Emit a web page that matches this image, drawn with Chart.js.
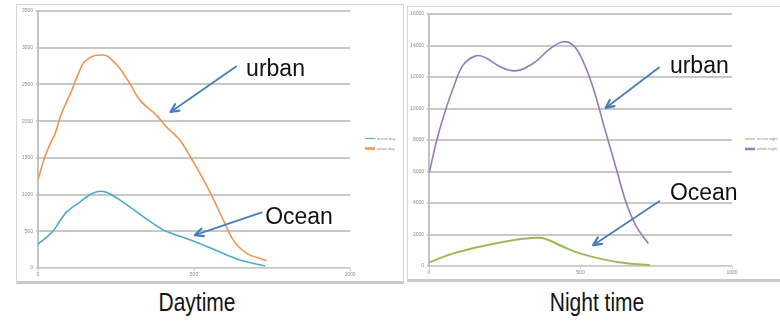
<!DOCTYPE html>
<html><head><meta charset="utf-8">
<script src="https://cdn.jsdelivr.net/npm/chart.js@4"></script>
<style>
html,body{margin:0;padding:0;background:#fff;}
body{width:780px;height:321px;position:relative;overflow:hidden;font-family:"Liberation Sans",Arial,sans-serif;}
.frame{position:absolute;box-sizing:border-box;border:1px solid #d6d6d6;border-bottom:3px solid #c9c9c9;background:#fff;}
canvas{position:absolute;}
.title{position:absolute;top:288px;font-family:"Liberation Sans",Arial,sans-serif;font-size:25px;color:#151515;transform:translateX(-50%) scaleX(0.84);white-space:nowrap;}
</style></head>
<body>
<div class="frame" style="left:16px;top:4px;width:388px;height:280px"></div>
<div class="frame" style="left:407px;top:6px;width:380px;height:276px"></div>
<canvas id="day" width="386" height="277" style="left:17px;top:5px"></canvas>
<canvas id="night" width="372" height="272" style="left:408px;top:8px"></canvas>
<div class="title" style="left:197px">Daytime</div>
<div class="title" style="left:597px">Night time</div>
<script>
// Daytime series
const dayUrbanX = [0, 22, 40, 55, 68, 80, 108, 125, 145, 165, 183, 218, 240, 263, 295, 327, 380, 412, 455, 498, 551, 594, 626, 669, 733];
const dayUrbanY = [1205, 1512, 1700, 1830, 2011, 2150, 2418, 2600, 2790, 2860, 2894, 2894, 2820, 2713, 2509, 2283, 2079, 1920, 1739, 1444, 1037, 652, 380, 200, 100];
const dayOceanX = [0, 25, 49, 70, 92, 135, 177, 215, 263, 338, 402, 450, 498, 573, 647, 728];
const dayOceanY = [326, 410, 507, 640, 765, 901, 1023, 1037, 924, 697, 516, 440, 367, 235, 109, 27];

// Night-time series
const nightUrbanX = [1, 25, 50, 80, 113, 157, 190, 234, 284, 344, 399, 443, 477, 509, 542, 576, 620, 652, 685, 724];
const nightUrbanY = [5940, 7938, 9620, 11300, 12770, 13356, 13190, 12660, 12390, 12870, 13780, 14240, 13990, 12980, 11300, 8990, 6050, 3950, 2480, 1430];
const nightOceanX = [1, 80, 190, 278, 355, 388, 443, 498, 575, 652, 729];
const nightOceanY = [230, 800, 1323, 1640, 1790, 1700, 1220, 800, 420, 170, 60];

const xTickLabels = ['0', '500', '1000'];
const seriesLabels = {day: ['ocean day', 'urban day'], night: ['ocean night', 'urban night']};

const pts = (xs, ys) => xs.map((x, i) => ({x, y: ys[i]}));

// Callouts: text and arrow positions in data units
const dayCallouts = [
  {text: 'urban', at: [667, 2616], tail: [635, 2745], tip: [425, 2124]},
  {text: 'Ocean', at: [728, 598], tail: [717, 757], tip: [503, 448]}
];
const nightCallouts = [
  {text: 'urban', at: [795, 12285], tail: [759, 12600], tip: [583, 10036]},
  {text: 'Ocean', at: [795, 4221], tail: [760, 4114], tip: [542, 1323]}
];

const sideLegend = {
  id: 'sideLegend',
  afterDraw(chart, args, o) {
    const ctx = chart.ctx, a = chart.chartArea;
    const x0 = a.right + o.offsetX;
    const yc = (a.top + a.bottom) / 2;
    ctx.save();
    chart.data.datasets.forEach((ds, i) => {
      const y = yc + o.offsetY + i * o.rowGap;
      ctx.strokeStyle = ds.borderColor;
      ctx.lineWidth = o.sampleWidths[i];
      ctx.beginPath(); ctx.moveTo(x0, y); ctx.lineTo(x0 + o.sampleLen, y); ctx.stroke();
      ctx.fillStyle = '#8c8c8c';
      ctx.font = '4px "Liberation Sans"';
      ctx.textBaseline = 'middle';
      ctx.fillText(ds.label, x0 + o.sampleLen + 2, y);
    });
    ctx.restore();
  }
};

const callouts = {
  id: 'callouts',
  afterDatasetsDraw(chart, args, o) {
    const xs = chart.scales.x, ys = chart.scales.y, ctx = chart.ctx;
    ctx.save();
    o.items.forEach(it => {
      const tx = xs.getPixelForValue(it.tail[0]), ty = ys.getPixelForValue(it.tail[1]);
      const hx = xs.getPixelForValue(it.tip[0]), hy = ys.getPixelForValue(it.tip[1]);
      ctx.strokeStyle = '#4a7ebb';
      ctx.lineWidth = 1.8;
      ctx.lineCap = 'round';
      ctx.lineJoin = 'round';
      ctx.beginPath(); ctx.moveTo(tx, ty); ctx.lineTo(hx, hy); ctx.stroke();
      const ang = Math.atan2(hy - ty, hx - tx);
      const len = 9, spread = 0.45;
      ctx.lineWidth = 2.2;
      ctx.beginPath();
      ctx.moveTo(hx - len * Math.cos(ang - spread), hy - len * Math.sin(ang - spread));
      ctx.lineTo(hx, hy);
      ctx.lineTo(hx - len * Math.cos(ang + spread), hy - len * Math.sin(ang + spread));
      ctx.stroke();
      ctx.fillStyle = '#111';
      ctx.font = '23px "Liberation Sans"';
      ctx.textBaseline = 'alphabetic';
      ctx.textAlign = 'left';
      ctx.fillText(it.text, xs.getPixelForValue(it.at[0]), ys.getPixelForValue(it.at[1]));
    });
    ctx.restore();
  }
};

function makeChart(id, sets, yMax, yStep, pad, legendOpts, items, tension) {
  return new Chart(document.getElementById(id), {
    type: 'line',
    data: {datasets: sets},
    options: {
      responsive: false,
      devicePixelRatio: 1,
      animation: false,
      events: [],
      layout: {padding: pad},
      elements: {point: {radius: 0}, line: {tension: tension, borderWidth: 1.6}},
      scales: {
        x: {
          type: 'linear', min: 0, max: 1000,
          afterFit: s => { s.height = 14; },
          ticks: {stepSize: 500, color: '#8a8a8a', font: {size: 5, family: 'Liberation Sans'}, padding: 1,
                  maxRotation: 0, callback: (v) => xTickLabels[v / 500]},
          grid: {drawOnChartArea: false, color: '#cfcfcf', tickLength: 3},
          border: {color: '#d4d4d4', width: 1}
        },
        y: {
          min: 0, max: yMax,
          afterFit: s => { s.width = 21; },
          ticks: {stepSize: yStep, color: '#8a8a8a', font: {size: 5, family: 'Liberation Sans'}, padding: 3,
                  callback: (v) => String(v)},
          grid: {color: '#c8c8c8', lineWidth: 2, tickLength: 2},
          border: {color: '#c4c4c4', width: 2}
        }
      },
      plugins: {
        legend: {display: false},
        tooltip: {enabled: false},
        sideLegend: legendOpts,
        callouts: {items}
      }
    },
    plugins: [sideLegend, callouts]
  });
}

makeChart('day', [
  {label: seriesLabels.day[0], data: pts(dayOceanX, dayOceanY), borderColor: '#4bacc6'},
  {label: seriesLabels.day[1], data: pts(dayUrbanX, dayUrbanY), borderColor: '#f0954f'}
], 3500, 500, {top: 5, right: 53, left: 0, bottom: 0},
  {offsetX: 15, offsetY: -1, rowGap: 10, sampleLen: 10, sampleWidths: [1, 2.5]},
  dayCallouts, 0.3);

makeChart('night', [
  {label: seriesLabels.night[0], data: pts(nightOceanX, nightOceanY), borderColor: '#9bbb59', borderWidth: 2},
  {label: seriesLabels.night[1], data: pts(nightUrbanX, nightUrbanY), borderColor: '#957bbd'}
], 16000, 2000, {top: 4, right: 48, left: 0, bottom: 0},
  {offsetX: 13, offsetY: -1, rowGap: 10, sampleLen: 10, sampleWidths: [1, 2.5]},
  nightCallouts, 0.4);
</script>
</body></html>
